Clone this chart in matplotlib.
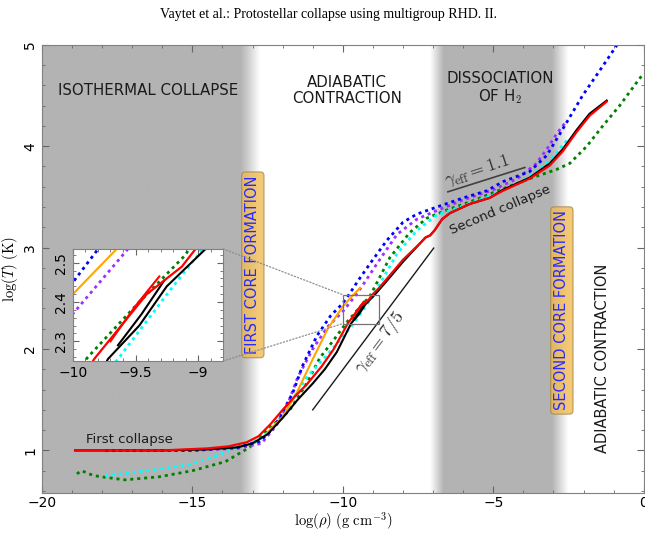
import numpy as np
import matplotlib
matplotlib.use("Agg")
import matplotlib.pyplot as plt
from matplotlib.patches import Rectangle, ConnectionPatch
from matplotlib.ticker import MultipleLocator, FuncFormatter

plt.rcParams['mathtext.fontset'] = 'cm'
plt.rcParams['font.family'] = ['DejaVu Sans']

# --- data: log(rho), log(T) ---
red_x = [-18.9, -16.0, -14.5, -13.8, -13.2, -12.8, -12.4, -12.0, -11.6, -11.2, -10.7, -10.3,
         -9.83, -9.41, -9.13, -9.02, -8.77, -8.0, -7.44, -7.25, -7.1, -6.95, -6.7, -6.44,
         -5.78, -5.12, -4.68, -3.79, -3.12, -2.69, -2.23, -1.8, -1.23]
red_y = [1.0, 1.0, 1.02, 1.04, 1.08, 1.14, 1.26, 1.40, 1.53, 1.65, 1.83, 2.0,
         2.255, 2.42, 2.49, 2.535, 2.61, 2.88, 3.04, 3.10, 3.12, 3.17, 3.28, 3.34,
         3.43, 3.49, 3.56, 3.68, 3.81, 3.95, 4.14, 4.3, 4.44]
red_loop_x = [-9.70, -9.50, -9.31]
red_loop_y = [2.30, 2.39, 2.465]

black_x = [-18.9, -16.0, -14.5, -13.5, -13.0, -12.5, -12.0, -11.5, -11.0, -10.6, -10.2,
           -9.72, -9.47, -9.25, -8.94, -8.6, -8.0, -7.44, -7.25, -7.1, -6.95, -6.7, -6.44,
           -5.78, -5.12, -4.68, -3.79, -3.12, -2.69, -2.23, -1.8, -1.23]
black_y = [1.0, 1.0, 1.01, 1.03, 1.07, 1.16, 1.32, 1.50, 1.66, 1.80, 1.97,
           2.255, 2.34, 2.44, 2.535, 2.65, 2.86, 3.04, 3.10, 3.12, 3.17, 3.28, 3.34,
           3.43, 3.49, 3.57, 3.69, 3.83, 3.97, 4.16, 4.32, 4.45]
black_loop_x = [-9.64, -9.45, -9.27]
black_loop_y = [2.29, 2.37, 2.455]

blue_x = [-17.9, -15.0, -13.5, -12.76, -12.4, -12.1, -11.66, -11.33, -10.86, -10.4, -10.0,
          -9.81, -9.5, -9.1, -8.54, -8.0, -7.54, -6.78, -6.0, -5.22, -4.68, -3.79, -3.22,
          -2.69, -2.03, -1.36, -0.7]
blue_y = [1.0, 1.0, 1.03, 1.09, 1.19, 1.32, 1.57, 1.84, 2.13, 2.33, 2.45,
          2.53, 2.67, 2.84, 3.07, 3.25, 3.33, 3.41, 3.49, 3.56, 3.65, 3.75, 3.91,
          4.17, 4.5, 4.79, 5.08]

purple_x = [-17.9, -15.0, -13.5, -12.7, -12.2, -11.8, -11.5, -11.0, -10.5, -10.0, -9.56,
            -9.2, -8.87, -8.2, -7.54, -7.0, -6.0, -5.0, -4.2, -3.6, -3.22, -2.9, -2.56]
purple_y = [1.0, 1.0, 1.02, 1.07, 1.25, 1.48, 1.72, 2.0, 2.22, 2.37, 2.535,
            2.69, 2.84, 3.13, 3.28, 3.35, 3.47, 3.57, 3.68, 3.82, 3.97, 4.12, 4.25]

cyan_x = [-17.9, -16.5, -15.1, -14.2, -13.4, -12.8, -12.4, -12.0, -11.5, -11.2, -10.5, -10.0,
          -9.64, -9.2, -9.0, -8.2, -7.54, -6.88, -6.0, -5.0, -4.2, -3.55, -3.0, -2.52]
cyan_y = [0.75, 0.80, 0.86, 0.95, 1.04, 1.10, 1.2, 1.35, 1.58, 1.72, 1.95, 2.12,
          2.255, 2.44, 2.52, 2.94, 3.17, 3.32, 3.41, 3.52, 3.63, 3.75, 3.9, 4.07]

green_x = [-18.84, -18.67, -18.45, -18.24, -17.9, -17.24, -16.1, -15.0, -13.9, -13.1, -12.45,
           -12.0, -11.76, -11.2, -10.77, -10.3, -9.88, -9.47, -9.1, -8.44, -7.77, -7.21,
           -6.55, -5.78, -4.68, -3.79, -2.9, -2.46, -1.89, -1.36, -0.8, -0.23, 0.0]
green_y = [0.77, 0.80, 0.77, 0.75, 0.735, 0.71, 0.74, 0.80, 0.89, 1.03, 1.22,
           1.33, 1.40, 1.66, 1.91, 2.09, 2.26, 2.40, 2.52, 2.9, 3.15, 3.29,
           3.37, 3.45, 3.58, 3.68, 3.77, 3.83, 4.0, 4.2, 4.4, 4.63, 4.72]

orange_x = [-12.5, -12.0, -11.53, -11.0, -10.5, -10.0, -9.65, -9.43]
orange_y = [1.18, 1.33, 1.57, 1.9, 2.2, 2.42, 2.535, 2.6]

# gamma reference lines
g11_x = [-6.51, -3.95]
g11_y = [3.55, 3.79]
g75_x = [-11.0, -6.98]
g75_y = [1.40, 2.995]

# shaded phases (grey level along log rho)
shade_x = [-20, -13.4, -12.75, -7.1, -6.65, -3.05, -2.5, 0]
shade_v = [0.70, 0.70, 1.0, 1.0, 0.70, 0.70, 1.0, 1.0]

dots = (0, (1.1, 1.4))


def draw_curves(a):
    a.plot(green_x, green_y, color='green', ls=dots, lw=2)
    a.plot(cyan_x, cyan_y, color='cyan', ls=dots, lw=2)
    a.plot(purple_x, purple_y, color='#9b30ff', ls=dots, lw=2)
    a.plot(blue_x, blue_y, color='blue', ls=dots, lw=2)
    a.plot(orange_x, orange_y, color='orange', lw=1.5)
    a.plot(black_x, black_y, color='black', lw=1.5)
    a.plot(black_loop_x, black_loop_y, color='black', lw=1.5)
    a.plot(red_x, red_y, color='red', lw=1.6)
    a.plot(red_loop_x, red_loop_y, color='red', lw=1.5)


def gfmt(v, pos):
    return ('%g' % v).replace('-', '\u2212')


fig = plt.figure(figsize=(6.45, 5.33), dpi=100)
ax = fig.add_axes([0.065, 0.075, 0.933, 0.841])
ylo, yhi = 0.58, 5.0
ax.set_xlim(-20, 0)
ax.set_ylim(ylo, yhi)

xs = np.linspace(-20, 0, 800)
grey = np.interp(xs, shade_x, shade_v)
ax.imshow(grey[np.newaxis, :], extent=(-20, 0, ylo, yhi), aspect='auto',
          cmap='gray', vmin=0, vmax=1, zorder=0, interpolation='bilinear')

draw_curves(ax)
ax.plot(g11_x, g11_y, color='0.25', lw=1.2)
ax.plot(g75_x, g75_y, color='0.1', lw=1.0)

txt = '#1a1a1a'
ax.text(-16.48, 4.55, 'ISOTHERMAL COLLAPSE', ha='center', va='center', fontsize=10.8, color=txt)
ax.text(-9.87, 4.55, 'ADIABATIC\nCONTRACTION', ha='center', va='center', fontsize=10.8,
        color=txt, linespacing=1.1)
ax.text(-4.78, 4.57, 'DISSOCIATION\nOF H$_2$', ha='center', va='center', fontsize=10.8,
        color=txt, linespacing=1.1)
box = dict(boxstyle='round,pad=0.25', fc='#f0b84a', ec='#a08040', alpha=0.75, lw=0.8)
ax.text(-12.99, 2.83, 'FIRST CORE FORMATION', rotation=90, ha='center', va='center',
        fontsize=10.5, color='#2a2aff', bbox=box)
ax.text(-2.72, 2.38, 'SECOND CORE FORMATION', rotation=90, ha='center', va='center',
        fontsize=10.5, color='#2a2aff', bbox=box)
ax.text(-1.36, 1.91, 'ADIABATIC CONTRACTION', rotation=90, ha='center', va='center',
        fontsize=10.5, color=txt)
ax.text(-17.08, 1.11, 'First collapse', ha='center', va='center', fontsize=9.5, color=txt)
ax.text(-4.78, 3.37, 'Second collapse', ha='center', va='center', fontsize=9.5,
        color=txt, rotation=23)
ax.text(-5.55, 3.75, r'$\gamma_{\rm eff} = 1.1$', ha='center', va='center', fontsize=13,
        color='0.2', rotation=18)
ax.text(-8.77, 2.06, r'$\gamma_{\rm eff} = 7/5$', ha='center', va='center', fontsize=13,
        color='0.2', rotation=53)

ax.xaxis.set_major_locator(MultipleLocator(5))
ax.xaxis.set_minor_locator(MultipleLocator(1))
ax.yaxis.set_major_locator(MultipleLocator(1))
ax.yaxis.set_minor_locator(MultipleLocator(0.2))
ax.tick_params(which='both', direction='in', top=True, right=True, color='0.4')
ax.tick_params(which='major', length=5, labelsize=10)
ax.tick_params(which='minor', length=2.5)
ax.tick_params(axis='x', pad=2)
ax.tick_params(axis='y', labelrotation=90)
for lab in ax.get_yticklabels():
    lab.set_va('center')
for s in ax.spines.values():
    s.set_color('0.5')
ax.set_xlabel(r'$\log(\rho)\ (\mathrm{g\ cm}^{-3})$', fontsize=10.5, labelpad=0)
ax.set_ylabel(r'$\log(T)\ (\mathrm{K})$', fontsize=10.5, labelpad=2)

# inset zoom
ins_x = (-10.0, -8.8)
ins_y = (2.25, 2.535)
axins = fig.add_axes([0.113, 0.3227, 0.233, 0.2103])
axins.set_facecolor('white')
draw_curves(axins)
axins.set_xlim(*ins_x)
axins.set_ylim(*ins_y)
axins.xaxis.set_major_locator(MultipleLocator(0.5))
axins.xaxis.set_minor_locator(MultipleLocator(0.1))
axins.xaxis.set_major_formatter(FuncFormatter(gfmt))
axins.yaxis.set_major_locator(MultipleLocator(0.1))
axins.yaxis.set_minor_locator(MultipleLocator(0.02))
axins.tick_params(which='both', direction='in', top=True, right=True, color='0.4')
axins.tick_params(which='major', length=4, labelsize=10)
axins.tick_params(which='minor', length=2)
axins.tick_params(axis='y', labelrotation=90)
for lab in axins.get_yticklabels():
    lab.set_va('center')
for s in axins.spines.values():
    s.set_color('0.5')

ax.add_patch(Rectangle((ins_x[0], ins_y[0]), ins_x[1] - ins_x[0], ins_y[1] - ins_y[0],
                       fill=False, ec='0.45', lw=0.9, zorder=5))
for ca, cb in [((1, 1), (ins_x[0], ins_y[1])), ((1, 0), (ins_x[0], ins_y[0]))]:
    con = ConnectionPatch(xyA=ca, coordsA=axins.transAxes, xyB=cb, coordsB=ax.transData,
                          ls=':', color='0.55', lw=0.9)
    fig.add_artist(con)

fig.text(0.51, 0.972, 'Vaytet et al.: Protostellar collapse using multigroup RHD. II.',
         ha='center', va='center', fontsize=10, family=['Liberation Serif'])

fig.savefig('out.png', dpi=100)
